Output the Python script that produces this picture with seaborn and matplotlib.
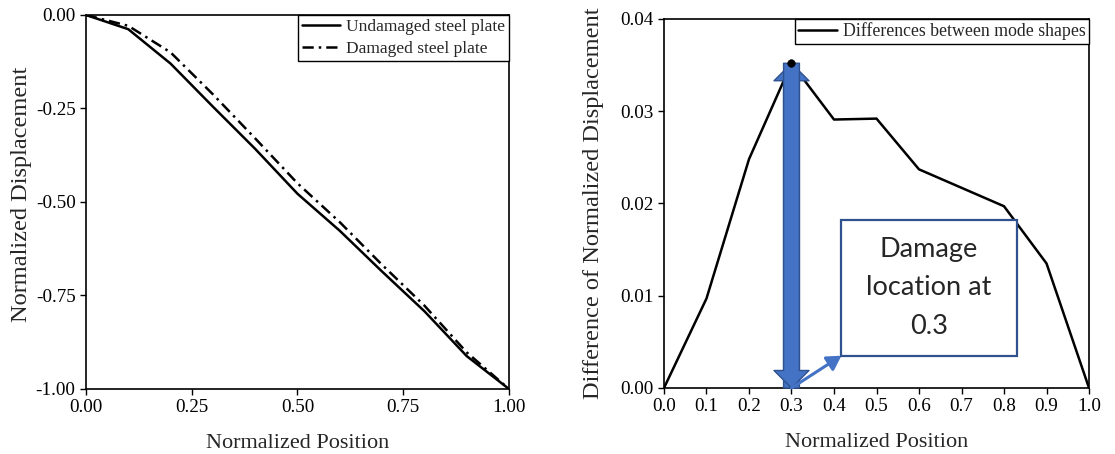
"""Mode shape comparison: undamaged vs damaged steel plate, and their difference."""

import matplotlib

matplotlib.use("Agg")

import matplotlib.pyplot as plt
import pandas as pd
import seaborn as sns
from matplotlib.patches import Rectangle

sns.set_theme(style="ticks")
plt.rcParams["font.family"] = ["Liberation Serif", "DejaVu Serif"]

# ------------------------------------------------------------------ data
posicion = [0.0, 0.1, 0.2, 0.3, 0.4, 0.5, 0.6, 0.7, 0.8, 0.9, 1.0]
sin_dano = [0.0, -0.038, -0.130, -0.245, -0.358, -0.478, -0.577, -0.686, -0.792, -0.912, -1.0]
con_dano = [0.0, -0.029, -0.100, -0.212, -0.330, -0.450, -0.554, -0.668, -0.777, -0.902, -1.0]
diferencia = [0.0, 0.0097, 0.0248, 0.0352, 0.0291, 0.0292, 0.0237, 0.0217, 0.0197, 0.0135, 0.0]

ticks_izq = [0.0, 0.25, 0.5, 0.75, 1.0]
ticks_y_izq = [0.0, -0.25, -0.5, -0.75, -1.0]
ticks_y_der = [0.0, 0.01, 0.02, 0.03, 0.04]

LOC_DANO = 0.3
TEXTO_CAJA = "Damage\nlocation at\n0.3"
AZUL = "#4472C4"
AZUL_OSC = "#2F528F"

df_izq = pd.DataFrame({"pos": posicion, "sin": sin_dano, "con": con_dano})
df_der = pd.DataFrame({"pos": posicion, "dif": diferencia})

fig = plt.figure(figsize=(11.15, 4.54), dpi=100)
eje1 = fig.add_axes([0.0771, 0.1432, 0.3794, 0.8238])
eje2 = fig.add_axes([0.5955, 0.1454, 0.3812, 0.8128])

FS_TICK = 13.8
FS_LAB = 16
FS_YLAB = 17.6
LW = 1.8

# ------------------------------------------------------------ left panel
sns.lineplot(data=df_izq, x="pos", y="sin", ax=eje1, color="black", lw=LW,
             label="Undamaged steel plate")
sns.lineplot(data=df_izq, x="pos", y="con", ax=eje1, color="black", lw=LW,
             linestyle=(0, (4.5, 2.0, 1.0, 2.0)), label="Damaged steel plate")
eje1.set_xlim(0, 1)
eje1.set_ylim(-1, 0)
eje1.set_xticks(ticks_izq, [f"{t:.2f}" for t in ticks_izq])
eje1.set_yticks(ticks_y_izq, [f"{t:.2f}" for t in ticks_y_izq])
eje1.set_xlabel("Normalized Position", fontsize=FS_LAB, labelpad=13)
eje1.set_ylabel("Normalized Displacement", fontsize=FS_YLAB)
eje1.yaxis.set_label_coords(-0.128, 0.52)
eje1.legend(loc="upper right", borderaxespad=0, fontsize=12.5, frameon=True,
            fancybox=False, edgecolor="black", framealpha=1, handlelength=2.2,
            handletextpad=0.3, labelspacing=0.3, borderpad=0.25)

# ----------------------------------------------------------- right panel
sns.lineplot(data=df_der, x="pos", y="dif", ax=eje2, color="black", lw=LW,
             label="Differences between mode shapes")
pico = df_der.loc[df_der["dif"].idxmax()]
sns.scatterplot(x=[pico["pos"]], y=[pico["dif"]], ax=eje2, color="black", s=30,
                edgecolor="black", zorder=5)
eje2.set_xlim(0, 1)
eje2.set_ylim(0, 0.04)
eje2.set_xticks(posicion, [f"{t:.1f}" for t in posicion])
eje2.set_yticks(ticks_y_der, [f"{t:.2f}" for t in ticks_y_der])
eje2.set_xlabel("Normalized Position", fontsize=FS_LAB, labelpad=13)
eje2.set_ylabel("Difference of Normalized Displacement", fontsize=FS_YLAB)
eje2.yaxis.set_label_coords(-0.141, 0.5)
eje2.legend(loc="upper right", borderaxespad=0, fontsize=12.8, frameon=True,
            fancybox=False, edgecolor="black", framealpha=1, handlelength=2.2,
            handletextpad=0.3, borderpad=0.2)

# double arrow marking the damage location
estilo = "simple,head_length=1.05,head_width=2.1,tail_width=0.95"
for ini, fin in [(0.0, pico["dif"]), (pico["dif"], 0.0)]:
    eje2.annotate("", xy=(LOC_DANO, fin), xytext=(LOC_DANO, ini),
                  arrowprops=dict(arrowstyle=estilo, mutation_scale=12, fc=AZUL,
                                  ec=AZUL_OSC, lw=1.0, shrinkA=0, shrinkB=0),
                  zorder=4)

# text box with a pointer to the damage location
caja_x0, caja_x1, caja_y0, caja_y1 = 0.4175, 0.83, 0.0035, 0.01826
eje2.add_patch(Rectangle((caja_x0, caja_y0), caja_x1 - caja_x0, caja_y1 - caja_y0,
                         fc="white", ec=AZUL_OSC, lw=1.6, zorder=6))
eje2.text((caja_x0 + caja_x1) / 2, (caja_y0 + caja_y1) / 2, TEXTO_CAJA,
          ha="center", va="center", fontsize=19.5, family=["Lato", "DejaVu Sans"],
          linespacing=1.68, zorder=7)
eje2.annotate("", xy=(caja_x0, caja_y0), xytext=(LOC_DANO, 0.0),
              arrowprops=dict(arrowstyle="-|>,head_length=0.6,head_width=0.35",
                              mutation_scale=14, color=AZUL, lw=2.2,
                              shrinkA=0, shrinkB=0), zorder=5)

for eje in (eje1, eje2):
    eje.tick_params(direction="out", length=4, width=1, labelsize=FS_TICK,
                    color="black", labelcolor="black")
    for lado in eje.spines.values():
        lado.set_color("black")
        lado.set_linewidth(1.2)
    eje.grid(False)

fig.savefig("out.png", dpi=100)
